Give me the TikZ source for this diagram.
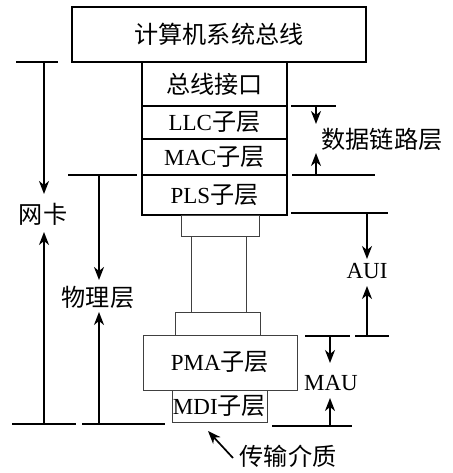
\documentclass[tikz,border=0pt]{standalone}
\usepackage{fontspec}
\setmainfont{Liberation Serif}
\newfontfamily\cjk[Scale=1.05]{Noto Sans CJK SC}
\usetikzlibrary{arrows.meta}
\begin{document}
\begin{tikzpicture}[x=1pt,y=-1pt,
  box/.style={draw,line width=1.6pt,inner sep=0pt,outer sep=0pt,font=\fontsize{23}{27}\selectfont},
  gbox/.style={draw=black!75,line width=1pt,inner sep=0pt,outer sep=0pt,font=\fontsize{23}{27}\selectfont},
  brk/.style={line width=1.7pt},
  arr/.style={line width=1.7pt,-{Stealth[length=13pt,width=10pt,inset=4pt]}},
  lbl/.style={inner sep=0pt,font=\fontsize{23}{27}\selectfont},
]
\useasboundingbox (0,0) rectangle (452,473);
% boxes
\node[box,minimum width=294pt,minimum height=55pt] (bus) at (219,34.5) {\cjk 计算机系统总线};
\node[box,minimum width=145pt,minimum height=44pt] (bi) at (214.5,84) {\cjk 总线接口};
\node[box,minimum width=145pt,minimum height=33pt] (llc) at (214.5,122.5) {LLC{\cjk 子层}};
\node[box,minimum width=145pt,minimum height=36pt] (mac) at (214.5,157) {MAC{\cjk 子层}};
\node[box,minimum width=145pt,minimum height=40pt] (pls) at (214.5,195) {PLS{\cjk 子层}};
\node[gbox,minimum width=78pt,minimum height=21pt] (c1) at (220,225.5) {};
\node[gbox,minimum width=55pt,minimum height=76pt] (cable) at (218.5,274) {};
\node[gbox,minimum width=85pt,minimum height=23pt] (c2) at (217.5,323.5) {};
\node[gbox,minimum width=154pt,minimum height=55pt] (pma) at (220,362.5) {PMA{\cjk 子层}};
\node[gbox,minimum width=95pt,minimum height=32pt] (mdi) at (219.5,406) {MDI{\cjk 子层}};
% labels
\node[lbl] (wk) at (43,214) {\cjk 网卡};
\node[lbl] (wl) at (98,297) {\cjk 物理层};
\node[lbl] (dl) at (382,139) {\cjk 数据链路层};
\node[lbl] (aui) at (367,271) {AUI};
\node[lbl] (mau) at (331,383) {MAU};
\node[lbl] (med) at (288,456) {\cjk 传输介质};
% coordinates
\coordinate (wkT1) at (16,62); \coordinate (wkT2) at (58,62);
\coordinate (wkB1) at (12,424); \coordinate (wkB2) at (76,424);
\coordinate (wkTa) at (44,62); \coordinate (wkTt) at (44,194);
\coordinate (wkBa) at (44,424); \coordinate (wkBt) at (44,232);
\coordinate (wlT1) at (68,175); \coordinate (wlT2) at (137,175);
\coordinate (wlB1) at (82,424); \coordinate (wlB2) at (165,424);
\coordinate (wlTa) at (99,175); \coordinate (wlTt) at (99,280);
\coordinate (wlBa) at (99,424); \coordinate (wlBt) at (99,312);
\coordinate (dlT1) at (291,106); \coordinate (dlT2) at (336,106);
\coordinate (dlB1) at (292,175); \coordinate (dlB2) at (375,175);
\coordinate (dlTa) at (316,106); \coordinate (dlTt) at (316,124);
\coordinate (dlBa) at (316,175); \coordinate (dlBt) at (316,153);
\coordinate (auT1) at (291,213); \coordinate (auT2) at (388,213);
\coordinate (auB1) at (355,336); \coordinate (auB2) at (389,336);
\coordinate (auTa) at (367,213); \coordinate (auTt) at (367,259);
\coordinate (auBa) at (367,336); \coordinate (auBt) at (367,286);
\coordinate (maT1) at (305,336); \coordinate (maT2) at (350,336);
\coordinate (maB1) at (272,426); \coordinate (maB2) at (352,426);
\coordinate (maTa) at (330,336); \coordinate (maTt) at (330,363);
\coordinate (maBa) at (330,426); \coordinate (maBt) at (330,398);
\coordinate (medS) at (233,458); \coordinate (medT) at (208,431);
% brackets
\draw[brk] (wkT1) -- (wkT2) (wkB1) -- (wkB2);
\draw[arr] (wkTa) -- (wkTt); \draw[arr] (wkBa) -- (wkBt);
\draw[brk] (wlT1) -- (wlT2) (wlB1) -- (wlB2);
\draw[arr] (wlTa) -- (wlTt); \draw[arr] (wlBa) -- (wlBt);
\draw[brk] (dlT1) -- (dlT2) (dlB1) -- (dlB2);
\draw[arr] (dlTa) -- (dlTt); \draw[arr] (dlBa) -- (dlBt);
\draw[brk] (auT1) -- (auT2) (auB1) -- (auB2);
\draw[arr] (auTa) -- (auTt); \draw[arr] (auBa) -- (auBt);
\draw[brk] (maT1) -- (maT2) (maB1) -- (maB2);
\draw[arr] (maTa) -- (maTt); \draw[arr] (maBa) -- (maBt);
\draw[arr] (medS) -- (medT);
\end{tikzpicture}
\end{document}
